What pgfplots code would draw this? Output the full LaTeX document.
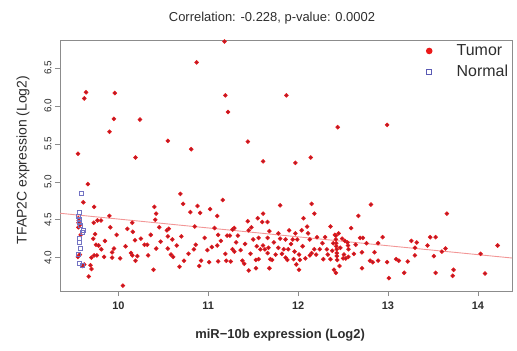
\documentclass[border=0pt]{standalone}
\usepackage{pgfplots}
\pgfplotsset{compat=1.18}
\usepackage{fontspec}
\setmainfont{Liberation Sans}
\definecolor{tumred}{RGB}{235,25,25}
\definecolor{tumdark}{RGB}{165,30,50}
\definecolor{normblue}{RGB}{115,115,195}
\definecolor{legblue}{RGB}{90,90,180}
\definecolor{fitline}{RGB}{242,150,150}
\definecolor{boxgray}{RGB}{140,140,140}
\definecolor{txt}{RGB}{45,45,45}
\begin{document}
\begin{tikzpicture}
\begin{axis}[
  scale only axis, width=452bp, height=251bp,
  xmin=9.35, xmax=14.38, ymin=3.56, ymax=6.87,
  axis line style={boxgray, line width=0.8bp},
  tick style={boxgray, line width=0.6bp},
  tick align=outside, major tick length=5bp,
  xtick pos=bottom, ytick pos=left,
  xtick={10,11,12,13,14}, ytick={4,4.5,5,5.5,6,6.5},
  /pgf/number format/assume math mode=true,
  yticklabel style={rotate=90, anchor=south, text=txt, font=\fontsize{10}{12}\selectfont,
    /pgf/number format/fixed, /pgf/number format/fixed zerofill, /pgf/number format/precision=1},
  xticklabel style={text=txt, yshift=-2bp, font=\fontsize{11}{13}\selectfont\bfseries},
  title={Correlation: -0.228, p-value: 0.0002},
  title style={at={(axis description cs:0.469,1.064)}, anchor=center, text=txt, font=\fontsize{13}{15}\selectfont},
  xlabel={miR−10b expression (Log2)},
  xlabel style={at={(axis description cs:0.487,-0.178)}, anchor=center, text=txt, font=\fontsize{13}{15}\selectfont\bfseries},
  ylabel={TFAP2C expression (Log2)},
  ylabel style={at={(axis description cs:-0.082,0.522)}, anchor=center, text=txt, font=\fontsize{14}{16}\selectfont},
  legend style={at={(axis description cs:0.7976,0.985)}, anchor=north west, draw=none, fill=none,
    inner sep=0pt, row sep=7bp, text=txt, font=\fontsize{16}{18}\selectfont,
    nodes={inner ysep=1bp, inner xsep=2bp, text height=11bp, text depth=1bp},
    /tikz/every odd column/.append style={column sep=17bp}},
  legend cell align=left,
]
\addplot[fitline, line width=0.9bp, forget plot] coordinates {(9.35,4.585) (14.38,3.995)};
\addplot[only marks, mark=*, mark size=1.9bp, mark options={draw=tumred, fill=tumdark, line width=0.7bp},
  legend image code/.code={\path[draw=none,fill=none] (0cm,0cm) -- (0.6cm,0cm); \path[draw=none, fill=tumred] (0.3cm,0cm) circle (3.3bp);}]
  table {
x y
11.18 6.85
10.87 6.575
9.64 6.18
9.62 6.10
9.96 6.17
11.19 6.14
11.87 6.14
11.22 5.92
9.95 5.83
10.24 5.82
9.90 5.66
10.55 5.54
10.81 5.43
10.19 5.32
11.44 5.53
11.61 5.27
11.97 5.25
9.55 5.37
12.44 5.72
12.99 5.75
12.14 5.32
9.66 4.97
9.61 4.73
9.73 4.67
9.555 4.52
9.56 4.49
9.555 4.46
9.57 4.43
9.555 4.40
9.58 4.30
9.726 4.46
9.766 4.49
9.807 4.49
9.90 4.55
9.91 4.40
9.74 4.31
9.72 4.25
9.75 4.17
9.78 4.16
9.81 4.11
9.55 4.01
9.57 4.04
9.70 4.00
9.73 4.03
9.76 4.03
9.84 4.01
9.93 4.07
9.95 4.12
9.93 4.00
10.02 3.99
9.69 3.90
9.60 3.89
9.62 3.91
9.70 3.85
9.67 3.75
10.05 3.63
10.155 4.46
10.16 4.34
10.185 4.23
10.14 4.06
10.155 4.03
10.21 4.02
10.19 3.96
10.29 4.17
10.32 4.17
10.33 4.03
10.40 4.67
10.42 4.58
10.41 4.50
10.455 4.40
10.42 4.12
10.39 3.84
10.54 4.36
10.56 4.38
10.55 4.28
10.60 4.24
10.65 4.16
10.55 4.12
10.585 4.04
10.61 4.01
10.69 4.84
10.72 4.71
10.80 4.60
10.88 4.68
10.91 4.59
11.02 4.64
10.85 4.41
10.96 4.26
10.86 4.17
10.84 4.11
10.73 3.96
10.68 3.88
10.92 3.96
10.90 3.89
11.01 3.94
11.16 4.76
11.10 4.55
11.80 4.69
12.15 4.71
12.18 4.58
11.61 4.58
11.55 4.52
11.60 4.47
11.66 4.47
11.44 4.48
11.48 4.40
11.45 4.36
11.29 4.39
11.27 4.37
11.21 4.29
11.24 4.29
11.11 4.30
11.33 4.29
11.50 4.24
11.56 4.26
11.68 4.35
11.66 4.26
11.80 4.25
11.90 4.36
11.86 4.24
11.97 4.32
11.94 4.24
11.99 4.24
12.04 4.36
12.10 4.41
12.06 4.52
12.13 4.24
12.21 4.27
12.36 4.41
12.41 4.30
12.45 4.32
12.67 4.55
12.69 4.26
12.72 4.26
12.59 4.39
12.52 4.22
12.55 4.20
12.555 4.16
12.56 4.11
12.42 4.29
12.42 4.24
12.425 4.19
12.425 4.15
12.43 4.11
12.43 4.06
12.43 4.02
12.435 3.97
12.40 3.84
12.42 3.80
12.46 3.89
12.50 3.99
12.53 3.99
12.51 4.04
12.56 4.01
12.71 3.86
11.27 4.11
11.29 4.08
11.36 4.10
11.10 4.16
11.04 4.14
11.11 3.95
11.20 3.96
11.25 3.95
11.38 3.96
11.40 3.92
11.45 3.83
11.53 3.86
11.53 3.97
11.56 3.98
11.54 4.15
11.58 4.11
11.61 4.16
11.63 4.11
11.67 4.13
11.66 4.06
11.69 3.98
11.71 3.97
11.68 3.86
11.78 4.13
11.82 4.05
11.86 4.00
11.88 3.97
11.89 4.11
11.95 3.98
11.98 3.91
12.01 4.04
12.02 3.97
12.01 3.84
12.08 3.99
12.13 4.03
12.15 4.06
12.18 4.11
12.20 4.04
12.24 4.11
12.28 3.98
12.33 4.04
12.36 3.98
11.78 4.32
11.84 4.11
12.32 4.11
12.81 4.70
13.655 4.58
12.76 4.19
12.89 4.19
12.94 4.27
12.85 4.07
12.71 4.07
12.80 3.96
12.83 3.94
12.89 3.96
12.99 3.94
13.09 3.98
13.12 3.96
13.22 3.95
13.01 3.73
13.18 3.80
13.26 4.22
13.32 4.20
13.30 4.13
13.30 4.03
13.44 4.16
13.47 4.27
13.53 4.27
13.51 4.02
13.60 4.08
13.64 4.12
13.53 3.80
13.72 3.76
13.73 3.84
14.03 4.05
14.22 4.16
14.08 3.79
11.14 4.22
11.19 4.05
11.31 4.20
11.41 4.18
11.47 4.05
11.73 4.20
11.75 4.04
11.92 4.18
11.96 4.08
12.05 4.15
12.11 4.32
12.27 4.19
12.30 4.27
12.38 4.09
12.39 4.19
12.47 4.13
12.49 4.25
12.62 4.05
12.64 4.17
9.85 4.22
9.98 4.30
10.08 4.15
10.10 4.38
10.25 4.25
10.36 4.30
10.47 4.21
10.70 4.28
10.78 4.05
10.99 4.10
11.07 4.39
};
\addlegendentry{Tumor}
\addplot[only marks, mark=square, mark size=2bp, mark options={draw=normblue, line width=0.6bp},
  legend image code/.code={\path[draw=none,fill=none] (0cm,0cm) -- (0.6cm,0cm); \draw[legblue, line width=1.1bp] (0.3cm-2.6bp,-2.6bp) rectangle (0.3cm+2.6bp,2.6bp);}]
  table {
x y
9.59 4.85
9.56 4.60
9.55 4.55
9.57 4.50
9.56 4.46
9.58 4.42
9.61 4.36
9.60 4.33
9.57 4.26
9.56 4.20
9.58 4.12
9.57 3.92
9.60 3.90
9.55 4.05
};
\addlegendentry{Normal}
\end{axis}
\path (current axis.south west) ++(-60bp,-60bp) coordinate (bbA);
\path (current axis.north east) ++(5bp,40bp) coordinate (bbB);
\path (bbA) rectangle (bbB);
\end{tikzpicture}
\end{document}
